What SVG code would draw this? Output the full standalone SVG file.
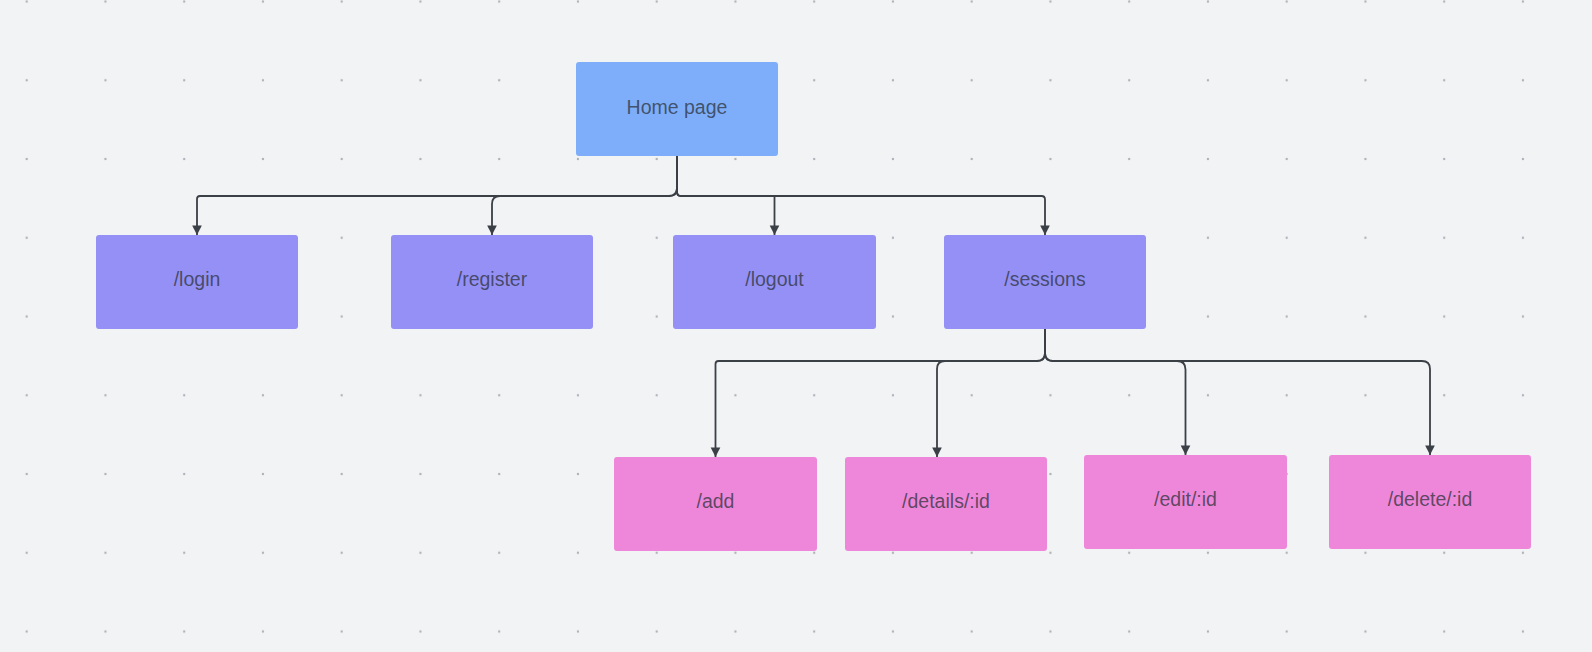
<svg xmlns="http://www.w3.org/2000/svg" width="1592" height="652" viewBox="0 0 1592 652">
<defs>
<pattern id="dots" x="26.7" y="1.5" width="78.75" height="78.75" patternUnits="userSpaceOnUse">
<circle cx="0" cy="0" r="1.2" fill="#aeb1b7"/>
<circle cx="78.75" cy="0" r="1.2" fill="#aeb1b7"/>
<circle cx="0" cy="78.75" r="1.2" fill="#aeb1b7"/>
<circle cx="78.75" cy="78.75" r="1.2" fill="#aeb1b7"/>
</pattern>
<marker id="arr" markerUnits="userSpaceOnUse" markerWidth="12" markerHeight="12" viewBox="0 0 12 12" refX="10.5" refY="6" orient="auto">
<path d="M1,1.2 L10.5,6 L1,10.8 Z" fill="#3b3f46"/>
</marker>
<style>
.box{stroke:none}
.home{fill:#7eaefa}
.lvl1{fill:#9490f5}
.lvl2{fill:#ee87da}
.t{font-family:"Liberation Sans",Arial,sans-serif;font-size:19.5px;text-anchor:middle;fill:#2b3038;fill-opacity:0.74}
.c{fill:none;stroke:#3b3f46;stroke-width:1.8;marker-end:url(#arr)}
</style>
</defs>
<rect width="1592" height="652" fill="#f2f3f5"/>
<rect width="1592" height="652" fill="url(#dots)"/>
<g id="connectors">
<path class="c" d="M677,156 V188 Q677,196 669,196 H200 Q197,196 197,199 V235"/>
<path class="c" d="M677,156 V188 Q677,196 669,196 H500 Q492,196 492,204 V235"/>
<path class="c" d="M677,156 V192 Q677,196 681,196 H774.5 V235"/>
<path class="c" d="M677,156 V192 Q677,196 681,196 H1041.5 Q1045,196 1045,199.5 V235"/>
<path class="c" d="M1045,329 V353 Q1045,361 1037,361 H718.5 Q715.5,361 715.5,364 V457"/>
<path class="c" d="M1045,329 V353 Q1045,361 1037,361 H945 Q937,361 937,369 V457"/>
<path class="c" d="M1045,329 V353 Q1045,361 1053,361 H1177 Q1185.5,361 1185.5,369.5 V455"/>
<path class="c" d="M1045,329 V353 Q1045,361 1053,361 H1422 Q1430,361 1430,369 V455"/>
</g>
<g id="home">
<rect class="box home" x="576" y="62" width="202" height="94" rx="3"/>
<text class="t" x="677" y="113.5">Home page</text>
</g>
<g id="login">
<rect class="box lvl1" x="96" y="235" width="202" height="94" rx="3"/>
<text class="t" x="197" y="286">/login</text>
</g>
<g id="register">
<rect class="box lvl1" x="391" y="235" width="202" height="94" rx="3"/>
<text class="t" x="492" y="286">/register</text>
</g>
<g id="logout">
<rect class="box lvl1" x="673" y="235" width="203" height="94" rx="3"/>
<text class="t" x="774.5" y="286">/logout</text>
</g>
<g id="sessions">
<rect class="box lvl1" x="944" y="235" width="202" height="94" rx="3"/>
<text class="t" x="1045" y="286">/sessions</text>
</g>
<g id="add">
<rect class="box lvl2" x="614" y="457" width="203" height="94" rx="3"/>
<text class="t" x="715.5" y="508">/add</text>
</g>
<g id="details">
<rect class="box lvl2" x="845" y="457" width="202" height="94" rx="3"/>
<text class="t" x="946" y="508">/details/:id</text>
</g>
<g id="edit">
<rect class="box lvl2" x="1084" y="455" width="203" height="94" rx="3"/>
<text class="t" x="1185.5" y="506">/edit/:id</text>
</g>
<g id="delete">
<rect class="box lvl2" x="1329" y="455" width="202" height="94" rx="3"/>
<text class="t" x="1430" y="506">/delete/:id</text>
</g>
</svg>
